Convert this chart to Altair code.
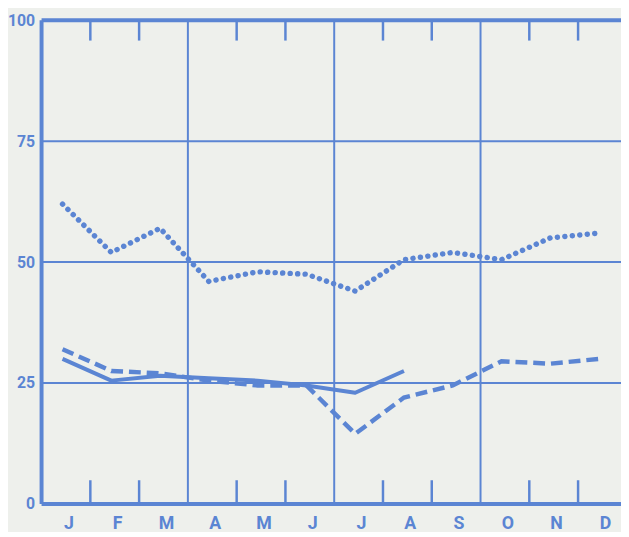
import altair as alt
import pandas as pd

months = ["J", "F", "M", "A", "M", "J", "J", "A", "S", "O", "N", "D"]
solid_vals = [30, 25.5, 26.5, 26, 25.5, 24.5, 23, 27.5]
dashed_vals = [32, 27.5, 27, 25.5, 24.5, 24.5, 14.5, 22, 24.5, 29.5, 29, 30]
dotted_vals = [62, 52, 57, 46, 48, 47.5, 44, 50.5, 52, 50.5, 55, 56]
y_ticks = [0, 25, 50, 75, 100]
h_grid = [25, 50, 75]
v_grid = [3, 6, 9]
minor_ticks = [1, 2, 4, 5, 7, 8, 10, 11]

BLUE = "#5b85d3"
BG = "#eef0ec"
FONT = "Roboto, sans-serif"

OFF = 0.43
solid = pd.DataFrame({"pos": [i + OFF for i in range(len(solid_vals))], "v": solid_vals})
dashed = pd.DataFrame({"pos": [i + OFF for i in range(len(dashed_vals))], "v": dashed_vals})
dotted = pd.DataFrame({"pos": [i + OFF for i in range(len(dotted_vals))], "v": dotted_vals})

xs = alt.Scale(domain=[0, 11.88], nice=False, zero=False)
ys = alt.Scale(domain=[0, 100], nice=False)

label_expr = "[" + ",".join("'" + m + "'" for m in months) + "][floor(datum.value)]"

x_axis = alt.Axis(values=[i + 0.55 for i in range(12)], labelExpr=label_expr, title=None,
                  domain=False, ticks=False, grid=False, labelFont=FONT, labelFontSize=18,
                  labelFontWeight="bold", labelColor=BLUE, labelPadding=11)
y_axis = alt.Axis(values=y_ticks, title=None, domain=False, ticks=False, grid=False,
                  labelFont=FONT, labelFontSize=16, labelFontWeight="bold", labelColor=BLUE,
                  labelPadding=7)

hgrid = alt.Chart(pd.DataFrame({"y": h_grid})).mark_rule(color=BLUE, strokeWidth=2).encode(
    y=alt.Y("y:Q", scale=ys, axis=y_axis))
vgrid = alt.Chart(pd.DataFrame({"x": v_grid})).mark_rule(color=BLUE, strokeWidth=2).encode(
    x=alt.X("x:Q", scale=xs, axis=x_axis))
frame_h = alt.Chart(pd.DataFrame({"y": [0, 100]})).mark_rule(color=BLUE, strokeWidth=4).encode(
    y=alt.Y("y:Q", scale=ys))
frame_v = alt.Chart(pd.DataFrame({"x": [0]})).mark_rule(color=BLUE, strokeWidth=4).encode(
    x=alt.X("x:Q", scale=xs))
top_ticks = alt.Chart(pd.DataFrame({"x": minor_ticks, "y": 100, "y2": 95.8})).mark_rule(
    color=BLUE, strokeWidth=2.5).encode(x=alt.X("x:Q", scale=xs), y=alt.Y("y:Q", scale=ys), y2="y2:Q")
bot_ticks = alt.Chart(pd.DataFrame({"x": minor_ticks, "y": 0, "y2": 4.9})).mark_rule(
    color=BLUE, strokeWidth=2.5).encode(x=alt.X("x:Q", scale=xs), y=alt.Y("y:Q", scale=ys), y2="y2:Q")

l_solid = alt.Chart(solid).mark_line(color=BLUE, strokeWidth=4, strokeJoin="round").encode(
    x=alt.X("pos:Q", scale=xs), y=alt.Y("v:Q", scale=ys))
l_dashed = alt.Chart(dashed).mark_line(color=BLUE, strokeWidth=4.5, strokeDash=[12, 6]).encode(
    x=alt.X("pos:Q", scale=xs), y=alt.Y("v:Q", scale=ys))
l_dotted = alt.Chart(dotted).mark_line(color=BLUE, strokeWidth=5.5, strokeDash=[0.1, 7.5],
                                       strokeCap="round").encode(
    x=alt.X("pos:Q", scale=xs), y=alt.Y("v:Q", scale=ys))

chart = alt.layer(hgrid, vgrid, frame_h, frame_v, top_ticks, bot_ticks,
                  l_solid, l_dashed, l_dotted).properties(
    width=587, height=490,
    autosize=alt.AutoSizeParams(type="none"),
    padding={"left": 34, "top": 9, "right": 0, "bottom": 25},
    background=BG,
).configure_view(stroke=None)

chart.save("out.html", embed_options={"renderer": "svg", "actions": False})
